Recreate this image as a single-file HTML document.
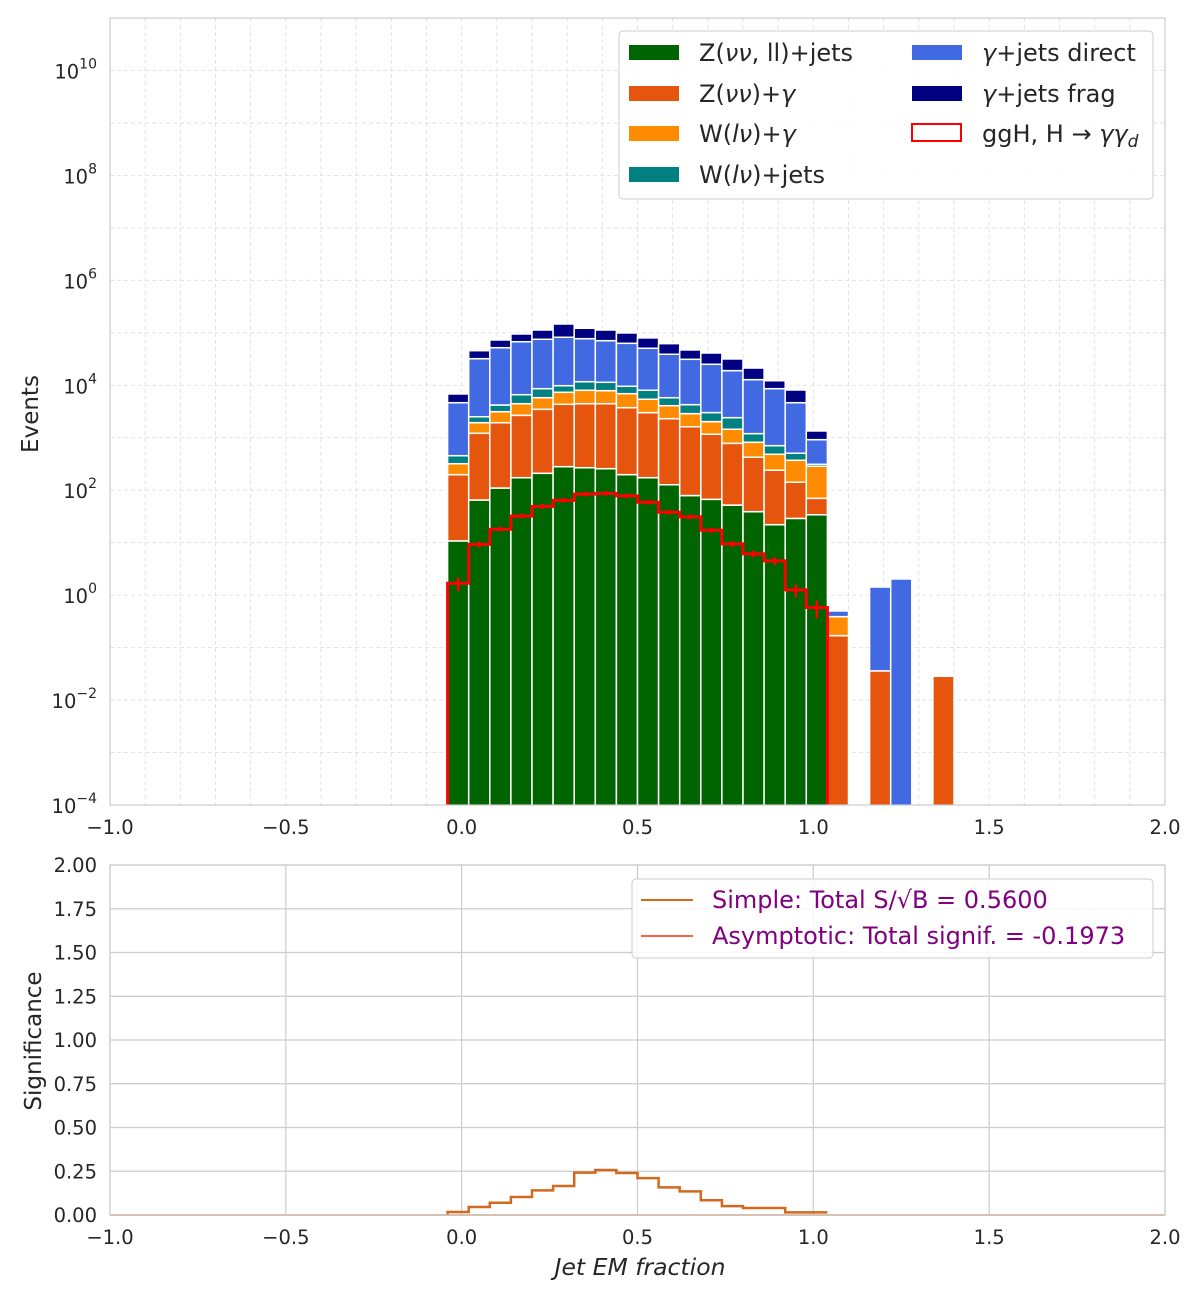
<!DOCTYPE html>
<html><head><meta charset="utf-8">
<style>
html,body{margin:0;padding:0;background:#fff;}
svg{display:block;font-family:"DejaVu Sans","Liberation Sans",sans-serif;}
</style></head>
<body>
<svg id="chart" width="1200" height="1300" viewBox="0 0 1200 1300" xmlns="http://www.w3.org/2000/svg">
<defs><clipPath id="topclip"><rect x="110" y="18" width="1055" height="787"/></clipPath></defs>
<rect x="0" y="0" width="1200" height="1300" fill="#fff"/>
<g id="top-grid"></g>
<g id="bars" clip-path="url(#topclip)"></g>
<g id="signal" clip-path="url(#topclip)"></g>
<rect x="110" y="18" width="1055" height="787" fill="none" stroke="#ccc" stroke-width="1.2"/>
<g id="top-ticks" font-size="19.5" fill="#262626"></g>
<text x="38" y="414" font-size="23" fill="#262626" text-anchor="middle" transform="rotate(-90 38 414)">Events</text>

<g>
<rect x="619" y="31" width="534" height="168" rx="4" fill="#fff" fill-opacity="0.85" stroke="#ccc"/>
<g font-size="24" fill="#262626">
<rect x="629" y="45" width="50" height="15" fill="#006400"/>
<text x="699" y="61">Z(<tspan font-style="italic">νν</tspan>, ll)+jets</text>
<rect x="629" y="86" width="50" height="15" fill="#e6550d"/>
<text x="699" y="102">Z(<tspan font-style="italic">νν</tspan>)+<tspan font-style="italic">γ</tspan></text>
<rect x="629" y="126" width="50" height="15" fill="#ff8c00"/>
<text x="699" y="142">W(<tspan font-style="italic">lν</tspan>)+<tspan font-style="italic">γ</tspan></text>
<rect x="629" y="167" width="50" height="15" fill="#008080"/>
<text x="699" y="183">W(<tspan font-style="italic">lν</tspan>)+jets</text>
<rect x="912" y="45" width="50" height="15" fill="#4169e1"/>
<text x="982" y="61"><tspan font-style="italic">γ</tspan>+jets direct</text>
<rect x="912" y="86" width="50" height="15" fill="#000080"/>
<text x="982" y="102"><tspan font-style="italic">γ</tspan>+jets frag</text>
<rect x="912" y="124" width="49" height="17" fill="none" stroke="#ff0000" stroke-width="2"/>
<text x="982" y="142">ggH, H → <tspan font-style="italic">γγ</tspan><tspan font-style="italic" font-size="17" dy="5">d</tspan></text>
</g></g>

<g id="bot-grid"></g>
<g id="sig"></g>
<rect x="110" y="865" width="1055" height="350" fill="none" stroke="#ccc" stroke-width="1.2"/>
<g id="bot-ticks" font-size="19.5" fill="#262626"></g>
<text x="41" y="1041" font-size="23" fill="#262626" text-anchor="middle" transform="rotate(-90 41 1041)">Significance</text>
<text x="640" y="1275" font-size="23.5" font-style="italic" fill="#262626" text-anchor="middle">Jet EM fraction</text>

<g>
<rect x="632" y="879" width="521" height="79" rx="4" fill="#fff" fill-opacity="0.85" stroke="#ccc"/>
<line x1="641" y1="900" x2="693" y2="900" stroke="#d2691e" stroke-width="2"/>
<text x="712" y="908" font-size="24" fill="#800080">Simple: Total S/√B = 0.5600</text>
<line x1="641" y1="936" x2="693" y2="936" stroke="#ff6347" stroke-width="2"/>
<text x="712" y="944" font-size="24" fill="#800080">Asymptotic: Total signif. = -0.1973</text>
</g>
</svg>
<script>
// ---- data ----
const binEdgeStart = -0.04;
const binWidth = 0.06;
const zJets   = [10.8,65,110,173,210,281,268,257,198,173,127,79,67,52,39,22,29,34,0,0,0,0,0,0];
const zGamma  = [187,1150,1826,2500,3270,4060,4190,4200,3540,2840,2180,1540,1100,730,386,218,113,36,0.169,0,0.036,0,0,0.0284];
const wGamma  = [122,720,1200,1780,2320,3010,3570,3430,3180,2400,1770,1260,860,670,394,244,230,216,0.22,0,0,0,0,0];
const wJets   = [135,580,1070,2160,2810,2470,3670,3510,2650,2620,1720,1390,990,960,378,222,134,26,0,0,0,0,0,0];
const gDirect = [4200,29600,47800,61000,66700,72400,65600,59400,53500,42700,33200,27000,22100,16600,11600,7900,4150,607,0.11,0,1.39,2.03,0,0];
const gFrag   = [2167,13500,20900,27300,37700,64800,44700,42200,36200,29100,23100,15800,16100,12700,8500,3590,3470,426,0,0,0,0,0,0];
const signal  = [1.68,9.3,18,32,49,64,84,87,78,59,38,31,17.2,9.5,6.1,4.5,1.26,0.58];
const signalErr = [0.5,1.2,1.5,2,2.5,3,3.5,3.5,3.3,2.8,2.2,2,1.5,1.2,0.9,0.8,0.35,0.22];
const simpleSig = [0.017,0.046,0.07,0.103,0.141,0.166,0.242,0.257,0.24,0.211,0.158,0.135,0.084,0.051,0.04,0.04,0.015,0.015];
const xTicks = [-1.0,-0.5,0.0,0.5,1.0,1.5,2.0];
const yLogTicks = [-4,-2,0,2,4,6,8,10];
const sigTicks = [0,0.25,0.5,0.75,1.0,1.25,1.5,1.75,2.0];
const series = [zJets,zGamma,wGamma,wJets,gDirect,gFrag];
const seriesColors = ['#006400','#e6550d','#ff8c00','#008080','#4169e1','#000080'];
const seriesNames = ['zjets','zgamma','wgamma','wjets','gjets-direct','gjets-frag'];

// ---- axes ----
const X0=110,X1=1165;
const xs = v => X0 + (v+1)/3*(X1-X0);
const TY0=18,TY1=805;
const ys = v => { const e=Math.log10(Math.max(v,1e-6)); return TY1 - (e+4)/15*(TY1-TY0); };
const BY0=865,BY1=1215;
const ysB = v => BY1 - v/2*(BY1-BY0);
const NS='http://www.w3.org/2000/svg';
function mk(tag, parent, attrs){ const e=document.createElementNS(NS,tag); for(const k in attrs) e.setAttribute(k,attrs[k]); parent.appendChild(e); return e; }

// top grid
const tg=document.getElementById('top-grid');
for(let i=-9;i<=19;i++){ const x=xs(i/10);
  const l=mk('line',tg,{x1:x,x2:x,y1:TY0,y2:TY1,stroke:'#ddd','stroke-width':0.8,'stroke-dasharray':'4,3'});
  
  
}
for(let e=-3;e<=10;e++){ const y=ys(Math.pow(10,e));
  const l=mk('line',tg,{x1:X0,x2:X1,y1:y,y2:y,stroke:'#ddd','stroke-width':0.8,'stroke-dasharray':'4,3'});
  
  
}
// bars
const bg=document.getElementById('bars');
const nb=zJets.length;
for(let i=0;i<nb;i++){
  let cum=0;
  const xl=xs(binEdgeStart+i*binWidth), xr=xs(binEdgeStart+(i+1)*binWidth);
  for(let s=0;s<series.length;s++){
    const v=series[s][i]; if(!(v>0)) continue;
    const lo=cum, hi=cum+v; cum=hi;
    const yb = lo>0? ys(lo) : TY1+5;
    const yt = ys(hi);
    const r=mk('rect',bg,{x:xl,y:yt,width:xr-xl,height:Math.max(0,yb-yt),fill:seriesColors[s],stroke:'#fff','stroke-width':1.5});
    
    
  }
}
// signal step
const sg=document.getElementById('signal');
let d='M'+xs(binEdgeStart)+','+(TY1+3);
for(let i=0;i<signal.length;i++){
  const xl=xs(binEdgeStart+i*binWidth), xr=xs(binEdgeStart+(i+1)*binWidth), y=ys(signal[i]);
  d+=' L'+xl+','+y+' L'+xr+','+y;
}
d+=' L'+xs(binEdgeStart+signal.length*binWidth)+','+(TY1+3);
const sp=mk('path',sg,{d:d,fill:'none',stroke:'#ff0000','stroke-width':3});


for(let i=0;i<signal.length;i++){
  const xc=xs(binEdgeStart+(i+0.5)*binWidth);
  const el=mk('line',sg,{x1:xc,x2:xc,y1:ys(signal[i]+signalErr[i]),y2:ys(Math.max(signal[i]-signalErr[i],1e-3)),stroke:'#ff0000','stroke-width':2.5});
  
  
  const dt=mk('circle',sg,{cx:xc,cy:ys(signal[i]),r:2.5,fill:'#ff0000'});
  
  
}
// top ticks
const tt=document.getElementById('top-ticks');
xTicks.forEach(v=>{
  const t=mk('text',tt,{x:xs(v),y:TY1+29,'text-anchor':'middle'});
  t.textContent=(v<0?'\u2212':'')+Math.abs(v).toFixed(1);
  
  
});
yLogTicks.forEach(e=>{
  const y=ys(Math.pow(10,e));
  const t=mk('text',tt,{x:97,y:y+8,'text-anchor':'end'});
  
  
  const a=mk('tspan',t,{}); a.textContent='10';
  const b=mk('tspan',t,{dy:-10,'font-size':14}); b.textContent=(e<0?'\u2212':'')+Math.abs(e);
});
// bottom grid
const bgr=document.getElementById('bot-grid');
xTicks.forEach(v=>{ const x=xs(v);
  const l=mk('line',bgr,{x1:x,x2:x,y1:BY0,y2:BY1,stroke:'#ccc','stroke-width':1.2});
  
  
});
sigTicks.forEach(v=>{ const y=ysB(v);
  const l=mk('line',bgr,{x1:X0,x2:X1,y1:y,y2:y,stroke:'#ccc','stroke-width':1.2});
  
  
});
// significance
const sgg=document.getElementById('sig');
const zl=mk('line',sgg,{x1:X0,x2:X1,y1:ysB(0),y2:ysB(0),stroke:'#e8b090','stroke-width':2});


let d2='M'+xs(binEdgeStart)+','+ysB(0);
for(let i=0;i<simpleSig.length;i++){
  const xl=xs(binEdgeStart+i*binWidth), xr=xs(binEdgeStart+(i+1)*binWidth), y=ysB(simpleSig[i]);
  d2+=' L'+xl+','+y+' L'+xr+','+y;
}
const ssp=mk('path',sgg,{d:d2,fill:'none',stroke:'#d2691e','stroke-width':2.5});


// bottom ticks
const bt=document.getElementById('bot-ticks');
xTicks.forEach(v=>{
  const t=mk('text',bt,{x:xs(v),y:BY1+29,'text-anchor':'middle'});
  t.textContent=(v<0?'\u2212':'')+Math.abs(v).toFixed(1);
  
  
});
sigTicks.forEach(v=>{
  const t=mk('text',bt,{x:97,y:ysB(v)+7,'text-anchor':'end'});
  t.textContent=v.toFixed(2);
  
  
});
</script>
</body></html>
